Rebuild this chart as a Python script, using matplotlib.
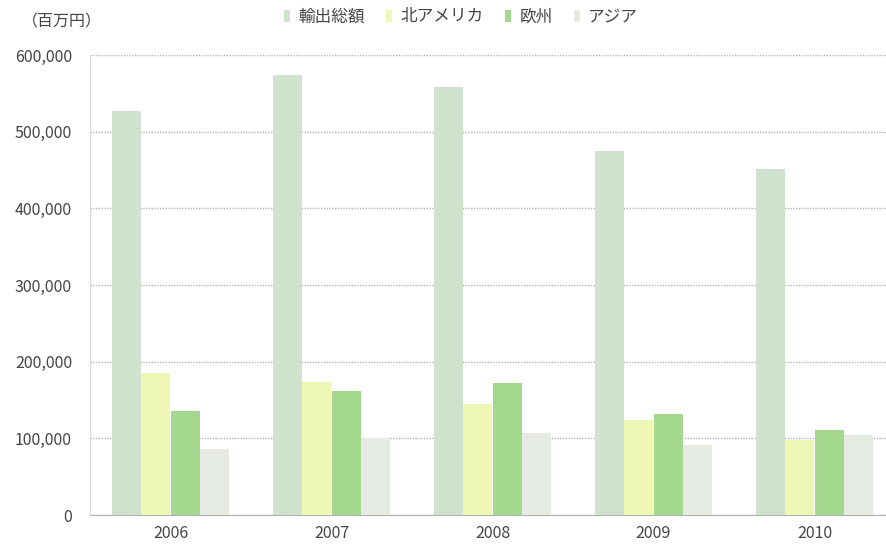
import numpy as np
import matplotlib.pyplot as plt

plt.rcParams['font.family'] = ['Noto Sans CJK JP', 'DejaVu Sans']

years = ['2006', '2007', '2008', '2009', '2010']
series_names = ['輸出総額', '北アメリカ', '欧州', 'アジア']

total = [527000, 574000, 558000, 475000, 451000]
north_america = [185000, 174000, 145000, 124000, 98000]
europe = [136000, 162000, 172000, 132000, 111000]
asia = [86000, 100000, 107000, 91000, 104000]

colors = ['#cfe2cd', '#eef7b4', '#a3d88e', '#e5ebe3']

fig = plt.figure(figsize=(8.86, 5.45), dpi=100)
ax = fig.add_axes([90 / 886, 30 / 545, 805 / 886, 460 / 545])

x = np.arange(len(years))
width = 0.178
step = 0.183
for i, (vals, name) in enumerate(zip([total, north_america, europe, asia], series_names)):
    ax.bar(x + (i - 1.5) * step, vals, width, color=colors[i], label=name, zorder=3)

ax.set_xlim(-0.5, 4.5)
ax.set_ylim(0, 600000)
ax.set_yticks(range(0, 600001, 100000))
ax.set_yticklabels([f'{v:,}' for v in range(0, 600001, 100000)])
ax.set_xticks(x)
ax.set_xticklabels(years)
ax.tick_params(axis='both', length=0, labelsize=11.5, colors='#444444')
ax.tick_params(axis='x', pad=7)
ax.tick_params(axis='y', pad=13)

ax.grid(axis='y', color='#b5b5b5', linewidth=1.0, linestyle=(0, (1, 1)), zorder=0)
for side in ['top', 'right']:
    ax.spines[side].set_visible(False)
ax.spines['left'].set_color('#d8d8d8')
ax.spines['bottom'].set_color('#b0b0b0')

fig.text(22 / 886, 1 - 22 / 545, '（百万円）', fontsize=11.5, color='#444444', va='center')

fig.legend(loc='center', bbox_to_anchor=(461 / 886, 1 - 17 / 545), ncol=4, frameon=False,
           fontsize=12, handlelength=0.35, handleheight=0.75, handletextpad=0.5,
           columnspacing=1.3, labelcolor='#444444')

fig.savefig('out.png', dpi=100)
